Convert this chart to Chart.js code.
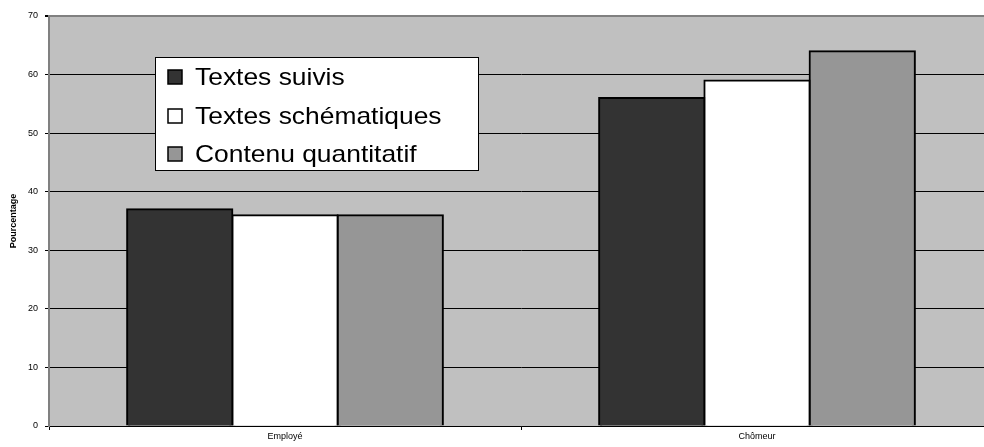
<!DOCTYPE html>
<html>
<head>
<meta charset="utf-8">
<script src="https://cdn.jsdelivr.net/npm/chart.js@4.4.0/dist/chart.umd.min.js"></script>
<style>
html,body{margin:0;padding:0;background:#fff;overflow:hidden;}
#wrap{width:984px;height:447px;position:relative;overflow:hidden;}
</style>
</head>
<body>
<div id="wrap"><canvas id="c" width="994" height="447"></canvas></div>
<script>
const categories = ['Employé', 'Chômeur'];
const seriesNames = ['Textes suivis', 'Textes schématiques', 'Contenu quantitatif'];
const textesSuivis = [37, 56];
const textesSchematiques = [36, 59];
const contenuQuantitatif = [36, 64];
const yTicks = [0, 10, 20, 30, 40, 50, 60, 70];
const seriesColors = ['#333333', '#ffffff', '#969696'];

const bgPlugin = {
  id: 'bg',
  beforeDraw(chart) {
    const {ctx, chartArea: a} = chart;
    ctx.save();
    ctx.fillStyle = '#c0c0c0';
    ctx.fillRect(a.left, a.top, a.right - a.left, a.bottom - a.top);
    ctx.restore();
  }
};

const legendPlugin = {
  id: 'boxLegend',
  afterDraw(chart) {
    const ctx = chart.ctx;
    ctx.save();
    const x0 = 155.5, y0 = 57.5, w = 323, h = 113;
    ctx.fillStyle = '#ffffff';
    ctx.fillRect(x0, y0, w, h);
    ctx.strokeStyle = '#000000';
    ctx.lineWidth = 1;
    ctx.strokeRect(x0, y0, w, h);
    const rows = [77, 116, 154];
    ctx.font = '24px "Liberation Sans", Arial, sans-serif';
    ctx.textBaseline = 'middle';
    chart.data.datasets.forEach((ds, i) => {
      const cy = rows[i];
      ctx.fillStyle = ds.backgroundColor;
      ctx.fillRect(168, cy - 7, 14, 14);
      ctx.lineWidth = 1.5;
      ctx.strokeStyle = '#000';
      ctx.strokeRect(168, cy - 7, 14, 14);
      ctx.fillStyle = '#000';
      ctx.save();
      ctx.translate(195, cy + 1);
      ctx.scale(1.1, 1);
      ctx.fillText(ds.label, 0, 0);
      ctx.restore();
    });
    ctx.restore();
  }
};

new Chart(document.getElementById('c'), {
  type: 'bar',
  data: {
    labels: categories,
    datasets: [
      {label: seriesNames[0], data: textesSuivis, backgroundColor: seriesColors[0]},
      {label: seriesNames[1], data: textesSchematiques, backgroundColor: seriesColors[1]},
      {label: seriesNames[2], data: contenuQuantitatif, backgroundColor: seriesColors[2]}
    ].map(d => Object.assign(d, {borderColor: '#000000', borderWidth: 2, borderSkipped: 'bottom', categoryPercentage: 0.669, barPercentage: 1.0, inflateAmount: 1}))
  },
  options: {
    responsive: false,
    animation: false,
    devicePixelRatio: 1,
    layout: {padding: {top: 16, right: 1, left: 0, bottom: 0}},
    plugins: {legend: {display: false}, tooltip: {enabled: false}},
    scales: {
      x: {
        offset: true,
        grid: {offset: true, drawOnChartArea: false, drawTicks: true, tickLength: 4, color: '#000'},
        border: {display: true, color: '#000', width: 1},
        ticks: {color: '#000', font: {size: 9, family: '"Liberation Sans", Arial, sans-serif'}, padding: 1},
        afterFit(s) { s.height = 21; }
      },
      y: {
        min: 0, max: 70,
        afterBuildTicks(s) { s.ticks = yTicks.map(v => ({value: v})); },
        grid: {
          color: ctx => (ctx.tick && ctx.tick.value === 70) ? '#808080' : '#000000',
          lineWidth: ctx => (ctx.tick && ctx.tick.value === 70) ? 2 : 1,
          tickLength: 4, tickColor: '#000'
        },
        border: {display: true, color: '#808080', width: 2},
        ticks: {color: '#000', font: {size: 9, family: '"Liberation Sans", Arial, sans-serif'}, padding: 7},
        title: {display: true, text: 'Pourcentage', color: '#000', font: {size: 9, weight: 'bold', family: '"Liberation Sans", Arial, sans-serif'}, padding: {top: 8, bottom: 4}},
        afterFit(s) { s.width = 49; }
      }
    }
  },
  plugins: [bgPlugin, legendPlugin]
});
</script>
</body>
</html>
